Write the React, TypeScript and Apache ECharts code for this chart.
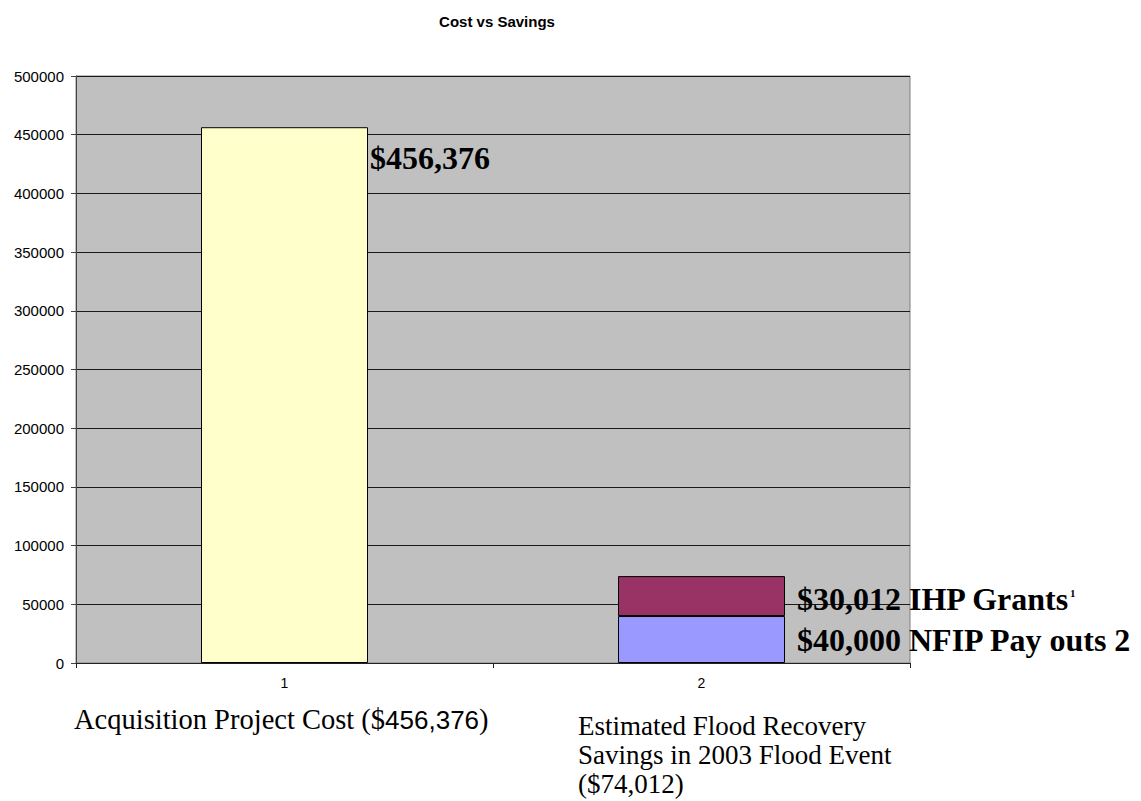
import React, { useEffect, useRef } from "react";
import * as echarts from "echarts";

const categories = ["1", "2"];
const costValues = [456376, "-"];
const nfipValues = ["-", 40000];
const ihpValues = ["-", 34012];
const yTicks = { min: 0, max: 500000, interval: 50000 };

const serif = "'Liberation Serif', 'Times New Roman', serif";
const sans = "'Liberation Sans', Arial, sans-serif";

export default function App() {
  const ref = useRef<HTMLDivElement>(null);
  useEffect(() => {
    if (!ref.current) return;
    const chart = echarts.init(ref.current, undefined, { renderer: "svg" });
    const barLabelBase = {
      show: true,
      color: "#000",
      fontFamily: serif,
      fontWeight: "bold",
      fontSize: 32,
    };
    chart.setOption({
      animation: false,
      backgroundColor: "#fff",
      title: {
        text: "Cost vs Savings",
        left: 492,
        top: 9,
        textAlign: "center",
        textStyle: { fontFamily: sans, fontSize: 15, fontWeight: "bold", color: "#000" },
      },
      grid: {
        left: 76,
        right: 231,
        top: 76,
        bottom: 138,
        show: true,
        backgroundColor: "#C0C0C0",
        borderColor: "#808080",
        borderWidth: 1,
      },
      xAxis: {
        type: "category",
        data: categories,
        axisLine: { lineStyle: { color: "#222", width: 1 } },
        axisTick: { show: true, length: 5, lineStyle: { color: "#222" } },
        axisLabel: { color: "#000", fontFamily: sans, fontSize: 14, margin: 13 },
      },
      yAxis: {
        type: "value",
        min: yTicks.min,
        max: yTicks.max,
        interval: yTicks.interval,
        axisLine: { show: true, lineStyle: { color: "#444", width: 1 } },
        axisTick: { show: true, length: 5, lineStyle: { color: "#444" } },
        axisLabel: {
          color: "#000",
          fontFamily: sans,
          fontSize: 15,
          margin: 12,
          formatter: (v: number) => String(v),
        },
        splitLine: { show: true, lineStyle: { color: "#1a1a1a", width: 1 } },
      },
      series: [
        {
          type: "bar",
          name: "Cost",
          stack: "all",
          data: costValues,
          barWidth: 167,
          itemStyle: { color: "#FFFFCC", borderColor: "#000", borderWidth: 1 },
          label: {
            ...barLabelBase,
            position: ["100%", 31],
            align: "left",
            verticalAlign: "middle",
            offset: [2, 0],
            formatter: "$456,376",
          },
        },
        {
          type: "bar",
          name: "NFIP",
          stack: "all",
          data: nfipValues,
          barWidth: 167,
          itemStyle: { color: "#9999FF", borderColor: "#000", borderWidth: 1 },
          label: {
            ...barLabelBase,
            position: "right",
            distance: 12,
            formatter: "$40,000 NFIP Pay outs 2",
          },
        },
        {
          type: "bar",
          name: "IHP",
          stack: "all",
          data: ihpValues,
          barWidth: 167,
          itemStyle: { color: "#993366", borderColor: "#000", borderWidth: 1 },
          label: {
            ...barLabelBase,
            position: "right",
            distance: 12,
            offset: [0, 3],
            formatter: "$30,012 IHP Grants{s|1}",
            rich: {
              s: { fontFamily: serif, fontWeight: "bold", fontSize: 11, color: "#000", padding: [0, 0, 12, 0] },
            },
          },
        },
      ],
      graphic: [
        {
          type: "text",
          left: 74,
          top: 705,
          style: {
            text: "{a|Acquisition Project Cost ($}{b|456,376}{a|)}",
            rich: {
              a: { fontFamily: serif, fontSize: 28.5, color: "#000" },
              b: { fontFamily: sans, fontSize: 26, color: "#000" },
            },
          },
        },
        {
          type: "text",
          left: 578,
          top: 711,
          style: {
            text: "Estimated Flood Recovery\nSavings in 2003 Flood Event\n($74,012)",
            fontFamily: serif,
            fontSize: 27,
            lineHeight: 29,
            fill: "#000",
          },
        },
      ],
    });
    return () => chart.dispose();
  }, []);
  return (
    <div
      ref={ref}
      style={{ position: "fixed", left: 0, top: 0, width: 1141, height: 801 }}
    />
  );
}
